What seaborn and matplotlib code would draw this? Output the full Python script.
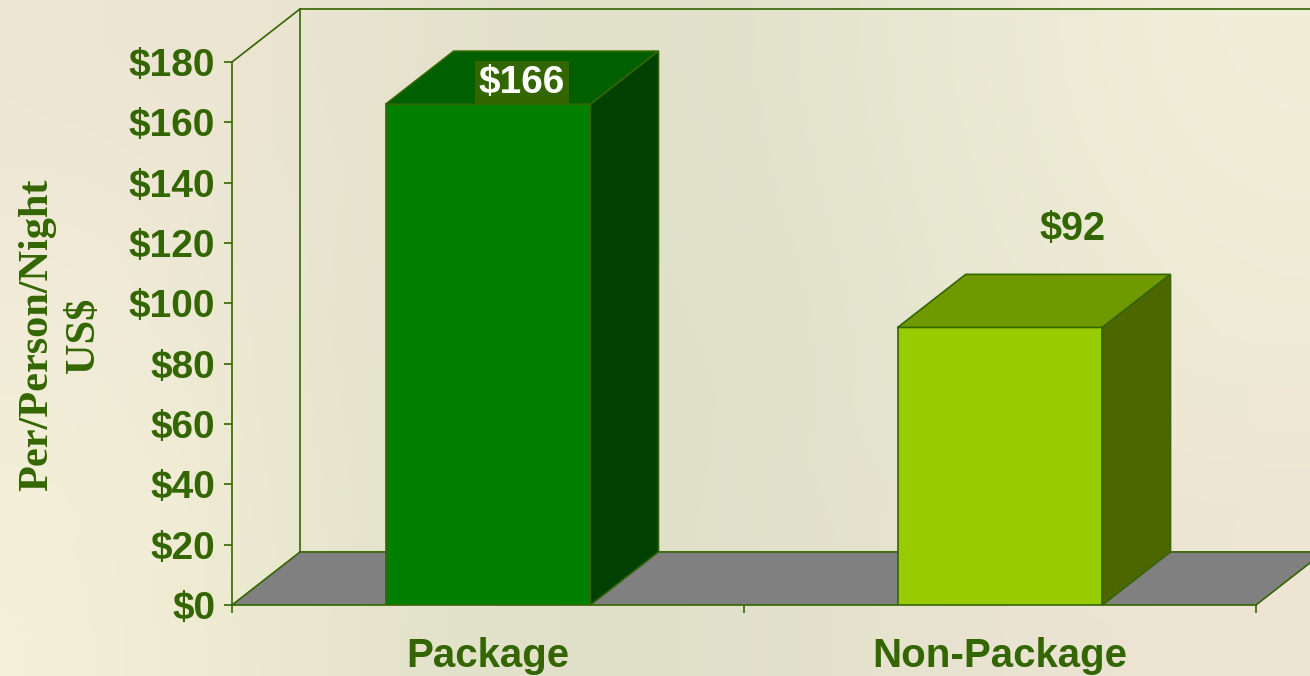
import matplotlib

matplotlib.use("Agg")

import matplotlib.pyplot as plt
import numpy as np
import pandas as pd
import seaborn as sns
from matplotlib.colors import to_rgb
from matplotlib.ticker import FuncFormatter

# chart data
categories = ["Package", "Non-Package"]
values = [166, 92]
front_colors = ["#007F00", "#99CC00"]
top_colors = ["#006000", "#709900"]
side_colors = ["#004000", "#4C6600"]
y_ticks = [0, 20, 40, 60, 80, 100, 120, 140, 160, 180]
y_label = "Per/Person/Night\nUS$"

INK = "#336600"
Y_MAX = 180
DEPTH_X = 0.133  # category units
DEPTH_Y = 17.6  # value units

sns.set_style("ticks")
plt.rcParams["font.family"] = ["Liberation Sans", "DejaVu Sans"]
plt.rcParams["font.weight"] = "bold"

fig = plt.figure(figsize=(13.1, 6.76), dpi=100)

# soft beige/green backdrop
bg = fig.add_axes([0, 0, 1, 1], zorder=-10)
grid = np.array([
    ["#efe6d6", "#e6e3cd", "#dfe0c9", "#e8e7d1", "#f2efd9"],
    ["#f2edd9", "#e3e2cb", "#dedfc7", "#e5e5ce", "#eeebd5"],
    ["#f5f0d8", "#e3e2c9", "#dfdfc8", "#e6e3cf", "#efe4d5"],
])
rgb = np.array([[to_rgb(c) for c in row] for row in grid])
bg.imshow(rgb, aspect="auto", interpolation="bicubic", extent=[0, 1, 0, 1])
bg.set_axis_off()

ax = fig.add_axes([232 / 1310, 71 / 676, 1024 / 1310, 543 / 676])
ax.set_facecolor("none")

df = pd.DataFrame({"category": categories, "value": values})
sns.barplot(
    data=df, x="category", y="value", hue="category", palette=front_colors,
    saturation=1, width=0.4, edgecolor=INK, linewidth=1.2, legend=False, ax=ax, zorder=3,
)

ax.set_xlim(-0.5, len(categories) - 0.5)
ax.set_ylim(0, Y_MAX)
x0, x1 = ax.get_xlim()

# floor and walls of the 3D box
floor = [(x0, 0), (x1, 0), (x1 + DEPTH_X, DEPTH_Y), (x0 + DEPTH_X, DEPTH_Y)]
ax.add_patch(plt.Polygon(floor, closed=True, facecolor="#808080", edgecolor=INK,
                         linewidth=1.2, zorder=1, clip_on=False))
wall_kw = dict(color=INK, linewidth=1.2, zorder=1, clip_on=False)
ax.plot([x0 + DEPTH_X, x0 + DEPTH_X], [DEPTH_Y, Y_MAX + DEPTH_Y], **wall_kw)
ax.plot([x0 + DEPTH_X, x1 + DEPTH_X], [Y_MAX + DEPTH_Y, Y_MAX + DEPTH_Y], **wall_kw)
ax.plot([x0, x0 + DEPTH_X], [Y_MAX, Y_MAX + DEPTH_Y], **wall_kw)

# top and side faces of each bar, plus value labels
for i, bar in enumerate(ax.patches[: len(values)]):
    left = bar.get_x()
    right = left + bar.get_width()
    h = bar.get_height()
    top = [(left, h), (right, h), (right + DEPTH_X, h + DEPTH_Y), (left + DEPTH_X, h + DEPTH_Y)]
    side = [(right, 0), (right + DEPTH_X, DEPTH_Y), (right + DEPTH_X, h + DEPTH_Y), (right, h)]
    for pts, col in ((top, top_colors[i]), (side, side_colors[i])):
        ax.add_patch(plt.Polygon(pts, closed=True, facecolor=col, edgecolor=INK,
                                 linewidth=1.2, zorder=3, clip_on=False))

    center = left + bar.get_width() / 2
    label_y = h + DEPTH_Y + 15
    if label_y > Y_MAX - 5:
        ax.text(center + DEPTH_X / 2, Y_MAX - 7, f"${h:.0f}", ha="center", va="center",
                fontsize=28, fontweight="bold", color="white", zorder=5,
                bbox=dict(boxstyle="square,pad=0.1", facecolor=INK, edgecolor="none"))
    else:
        ax.text(center + DEPTH_X * 1.07, label_y, f"${h:.0f}", ha="center", va="center",
                fontsize=28.5, fontweight="bold", color=INK, zorder=5)

# axes styling
for name in ("top", "right", "bottom"):
    ax.spines[name].set_visible(False)
ax.spines["left"].set_color(INK)
ax.spines["left"].set_linewidth(1.2)

ax.set_yticks(y_ticks)
ax.yaxis.set_major_formatter(FuncFormatter(lambda v, _: f"${v:.0f}"))
ax.tick_params(axis="y", direction="out", length=6, width=1.2, color=INK,
               labelcolor=INK, labelsize=28, pad=6)
ax.set_xticks(range(len(categories)))
ax.set_xticklabels(categories)
ax.set_xticks(np.arange(x0, x1 + 0.01, 1.0), minor=True)
ax.tick_params(axis="x", which="major", length=0, labelcolor=INK, labelsize=29, pad=23)
ax.tick_params(axis="x", which="minor", direction="out", length=6, width=1.2, color=INK)
for lab in ax.get_xticklabels() + ax.get_yticklabels():
    lab.set_fontweight("bold")

ax.set_xlabel("")
ax.set_ylabel("")
fig.text(61 / 1310, 1 - 335 / 676, y_label, rotation=90, ha="center", va="center",
         family=["Liberation Serif", "DejaVu Serif"], fontweight="bold", fontsize=30.5,
         color=INK, linespacing=1.3, multialignment="center")

fig.savefig("out.png", dpi=100)
